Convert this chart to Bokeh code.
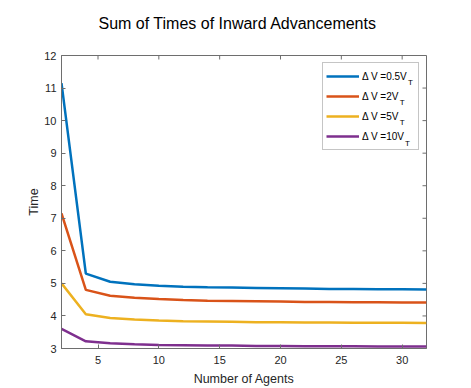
import math
from bokeh.plotting import figure
from bokeh.models import Range1d, Legend, LegendItem, FixedTicker, Title
from bokeh.core.properties import value
from bokeh.embed import file_html
from bokeh.resources import INLINE

agents = [2, 4, 6, 8, 10, 12, 14, 16, 18, 20, 22, 24, 26, 28, 30, 32]
dv_05 = [11.15, 5.30, 5.05, 4.97, 4.93, 4.90, 4.88, 4.87, 4.86, 4.85, 4.84, 4.83, 4.83, 4.82, 4.82, 4.81]
dv_2 = [7.15, 4.80, 4.62, 4.56, 4.52, 4.49, 4.47, 4.46, 4.45, 4.44, 4.43, 4.43, 4.42, 4.42, 4.41, 4.41]
dv_5 = [5.00, 4.05, 3.94, 3.89, 3.86, 3.84, 3.83, 3.82, 3.81, 3.81, 3.80, 3.80, 3.79, 3.79, 3.79, 3.78]
dv_10 = [3.60, 3.22, 3.16, 3.13, 3.11, 3.10, 3.09, 3.09, 3.08, 3.08, 3.07, 3.07, 3.07, 3.06, 3.06, 3.06]
labels = ["\u0394 V =0.5V", "\u0394 V =2V", "\u0394 V =5V", "\u0394 V =10V"]
subscripts = ["T", "T", "T", "T"]
colors = ["#0072BD", "#D95319", "#EDB120", "#7E2F8E"]
x_ticks = [5, 10, 15, 20, 25, 30]
y_ticks = [3, 4, 5, 6, 7, 8, 9, 10, 11, 12]
x_min, x_max = 2, 32
y_min, y_max = 3, 12

FONT = "Liberation Sans"
AX = "#6e6e6e"
TXT = "#262626"

p = figure(width=471, height=388, output_backend="svg", toolbar_location=None,
           x_range=Range1d(x_min, x_max), y_range=Range1d(y_min, y_max),
           title=None,
           min_border_left=61, min_border_right=45, min_border_top=55, min_border_bottom=40)
p.grid.visible = False
p.outline_line_color = AX
p.outline_line_width = 1
p.background_fill_color = "white"
p.border_fill_color = "white"

renderers = []
for ys, c in zip([dv_05, dv_2, dv_5, dv_10], colors):
    r = p.line(agents, ys, line_color=c, line_width=2.5)
    renderers.append(r)

for ax in (p.xaxis[0], p.yaxis[0]):
    ax.axis_line_color = AX
    ax.major_tick_line_color = AX
    ax.minor_tick_line_color = None
    ax.major_tick_in = 4
    ax.major_tick_out = 0
    ax.major_label_text_font = FONT
    ax.major_label_text_font_size = "11px"
    ax.major_label_text_color = TXT
    ax.axis_label_text_font = FONT
    ax.axis_label_text_font_size = "12.5px"
    ax.axis_label_text_font_style = "normal"
    ax.axis_label_text_color = TXT

p.xaxis.ticker = FixedTicker(ticks=x_ticks)
p.yaxis.ticker = FixedTicker(ticks=y_ticks)
p.xaxis.axis_label = "Number of Agents"
p.yaxis.axis_label = "Time"
p.xaxis.major_label_standoff = 7
p.xaxis.axis_label_standoff = 5
p.yaxis.major_label_standoff = 5
p.yaxis.axis_label_standoff = 0

# title: the trailing empty line lifts the text away from the frame
title = Title(text="Sum of Times of Inward Advancements\n", align="left", offset=37,
              standoff=13, text_font=FONT, text_font_size="16px",
              text_font_style="normal", text_color="#000000")
p.add_layout(title, "above")

# inward ticks on the top and right edges of the box
p.ray(x=x_ticks, y=[y_max] * len(x_ticks), length=4, length_units="screen",
      angle=-math.pi / 2, line_color=AX, line_width=1)
p.ray(x=[x_max] * len(y_ticks), y=y_ticks, length=4, length_units="screen",
      angle=math.pi, line_color=AX, line_width=1)

items = [LegendItem(label=lab, renderers=[r]) for lab, r in zip(labels, renderers)]
legend = Legend(items=items, location=(261, 198), glyph_width=33, glyph_height=20,
                label_height=20, label_width=53, spacing=0, padding=3, margin=0,
                label_standoff=3,
                label_text_font=FONT, label_text_font_size="10px", label_text_color="#000000",
                border_line_color="#8c8c8c", border_line_width=1, background_fill_alpha=0)
p.add_layout(legend, "center")

# subscript T after each legend label
sub_x = [30.47, 29.81, 29.81, 30.23]
sub_y = [11.17, 10.55, 9.93, 9.31]
p.text(x=sub_x, y=sub_y, text=subscripts, text_font=value(FONT), text_font_size="8px",
       text_color="#000000", text_baseline="middle", text_align="left", level="overlay")

open("out.html", "w").write(file_html(p, INLINE))
